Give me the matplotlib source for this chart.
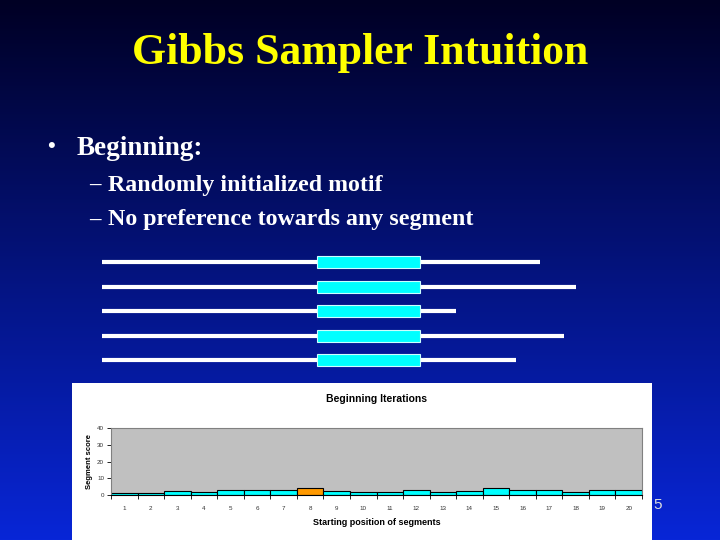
import numpy as np
import matplotlib
matplotlib.use("Agg")
import matplotlib.pyplot as plt
from matplotlib.patches import Rectangle

# slide text
title = "Gibbs Sampler Intuition"
bullet = "Beginning:"
sub_bullets = ["Randomly initialized motif", "No preference towards any segment"]

# sequences (lengths in px-like units) and the motif window in each
seq_len = [438, 474, 354, 462, 414]
motif_start = [215, 215, 215, 215, 215]
motif_len = 103

# bar chart data
positions = np.arange(1, 21)
scores = [1.4, 1.4, 2.6, 2.0, 3.2, 3.2, 3.2, 4.0, 2.6, 2.0,
          2.0, 3.2, 2.0, 2.6, 4.0, 3.2, 3.2, 2.0, 3.2, 3.2]
highlight = 8
yticks = [0, 10, 20, 30, 40]

W, H = 720, 540
fig = plt.figure(figsize=(7.2, 5.4), dpi=100)

# background gradient
bg = fig.add_axes([0, 0, 1, 1])
grad = np.linspace(0, 1, 256)[:, None]
top = np.array([0, 0, 36]) / 255.0
bot = np.array([8, 38, 215]) / 255.0
img = top[None, None, :] * (1 - grad[:, :, None]) + bot[None, None, :] * grad[:, :, None]
bg.imshow(np.repeat(img, 2, axis=1), aspect="auto", extent=[0, W, H, 0])
bg.set_xlim(0, W)
bg.set_ylim(H, 0)
bg.axis("off")

serif = ["Liberation Serif", "DejaVu Serif"]
fig.text(360 / W, 1 - 53 / H, title, color="#FFFF00", fontsize=31.5,
         fontweight="bold", family=serif, ha="center", va="center")
fig.text(47 / W, 1 - 147 / H, "\u2022", color="white", fontsize=16,
         fontweight="bold", family=serif, ha="left", va="center")
fig.text(77 / W, 1 - 148 / H, bullet, color="white", fontsize=19.5,
         fontweight="bold", family=serif, ha="left", va="center")
for i, s in enumerate(sub_bullets):
    y = 1 - (185 + 35 * i) / H
    fig.text(89 / W, y, "\u2013", color="white", fontsize=16.5,
             fontweight="bold", family=serif, ha="left", va="center")
    fig.text(108 / W, y, s, color="white", fontsize=17.2,
             fontweight="bold", family=serif, ha="left", va="center")

# sequences with motif boxes
x0 = 102
for i, (L, m) in enumerate(zip(seq_len, motif_start)):
    y = 262 + 24.5 * i
    bg.plot([x0, x0 + L], [y, y], color="white", lw=3, solid_capstyle="butt")
    bg.add_patch(Rectangle((x0 + m, y - 6), motif_len, 12, facecolor="#00FFFF",
                           edgecolor="#CCFFFF", lw=0.8, zorder=3))

# white chart panel
bg.add_patch(Rectangle((72, 383), 580, 157, facecolor="white", edgecolor="none", zorder=4))
fig.text(653 / W, 1 - 505 / H, "5", color="#DDDDDD", fontsize=11,
         family=["Liberation Sans", "DejaVu Sans"], ha="left", va="center")

sans = ["Liberation Sans", "DejaVu Sans"]
ax = fig.add_axes([111 / W, 1 - 495 / H, 531 / W, 67 / H])
ax.set_facecolor("#C0C0C0")
colors = ["#FF9900" if p == highlight else "#00FFFF" for p in positions]
ax.bar(positions, scores, width=1.0, color=colors, edgecolor="black", lw=0.8)
ax.set_xlim(0.5, 20.5)
ax.set_ylim(0, 40)
ax.set_yticks(yticks)
ax.set_yticklabels([str(v) for v in yticks], fontsize=4.5, family=sans, color="#333333")
ax.set_xticks(positions)
ax.set_xticklabels([str(p) for p in positions], fontsize=4.5, family=sans, color="#333333")
ax.set_xticks(np.arange(0.5, 21, 1), minor=True)
ax.tick_params(axis="x", which="major", length=0, pad=8)
ax.tick_params(axis="x", which="minor", length=3, width=0.6)
ax.tick_params(axis="y", length=3, width=0.6, pad=2)
for side in ["top", "right"]:
    ax.spines[side].set_color("#808080")
ax.spines["left"].set_color("#808080")
ax.spines["bottom"].set_color("black")
ax.set_xlabel("Starting position of segments", fontsize=6.5, fontweight="bold",
              family=sans, labelpad=5)
ax.set_ylabel("Segment score", fontsize=5.5, fontweight="bold", family=sans, labelpad=3)
ax.set_title("Beginning Iterations", fontsize=7.5, fontweight="bold", family=sans, pad=19)

fig.savefig("out.png", dpi=100)
